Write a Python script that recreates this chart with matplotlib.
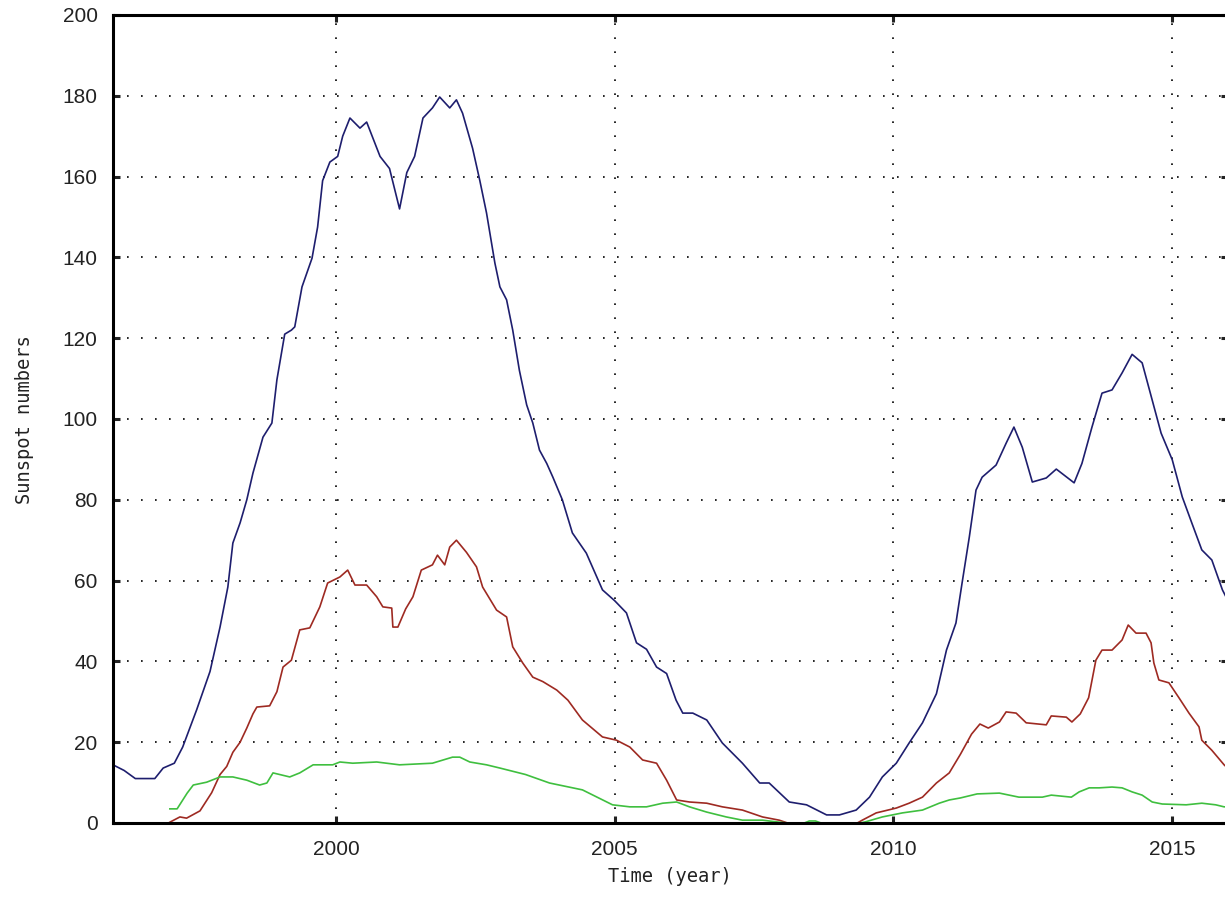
#Sunspot numbers 1996-2016 (total, north, south style curves)
import numpy as np
from matplotlib import pyplot as plt

# blue curve
anos_azul = [1996.0, 1996.2, 1996.4, 1996.75, 1996.9, 1997.1, 1997.25, 1997.5, 1997.74, 1997.92,
             1998.06, 1998.15, 1998.28, 1998.4, 1998.51, 1998.69, 1998.85, 1998.94, 1999.08, 1999.2,
             1999.26, 1999.39, 1999.57, 1999.67, 1999.76, 1999.89, 2000.03, 2000.12, 2000.25, 2000.43,
             2000.55, 2000.79, 2000.96, 2001.14, 2001.27, 2001.41, 2001.56, 2001.73, 2001.86, 2002.04,
             2002.16, 2002.27, 2002.45, 2002.58, 2002.7, 2002.85, 2002.94, 2003.06, 2003.17, 2003.29,
             2003.42, 2003.53, 2003.65, 2003.78, 2003.89, 2004.06, 2004.24, 2004.49, 2004.78, 2005.0,
             2005.21, 2005.39, 2005.57, 2005.75, 2005.93, 2006.1, 2006.22, 2006.4, 2006.65, 2006.93,
             2007.29, 2007.6, 2007.77, 2008.13, 2008.44, 2008.8, 2009.03, 2009.33, 2009.57, 2009.8,
             2010.05, 2010.28, 2010.52, 2010.77, 2010.95, 2011.12, 2011.23, 2011.36, 2011.48, 2011.59,
             2011.84, 2012.02, 2012.16, 2012.31, 2012.49, 2012.74, 2012.92, 2013.24, 2013.38, 2013.56,
             2013.74, 2013.92, 2014.1, 2014.28, 2014.46, 2014.64, 2014.8, 2015.0, 2015.18, 2015.35,
             2015.53, 2015.71, 2015.9, 2016.0]
azul = [14.4, 13, 11, 11, 13.6, 14.8, 18.8, 28, 37.5, 48.5,
        58.4, 69.3, 74.3, 80, 86.6, 95.5, 99, 109.7, 121, 122,
        122.8, 132.7, 139.8, 147.5, 159, 163.6, 165, 170, 174.5, 172,
        173.5, 165, 162, 152, 161, 165, 174.5, 177, 179.7, 177,
        179, 175.7, 167, 159, 151, 138.6, 132.7, 129.5, 122, 112,
        103.5, 99, 92.3, 89, 85.6, 80, 71.8, 66.8, 57.7, 55,
        52, 44.6, 43, 38.6, 37, 30.4, 27.2, 27.2, 25.5, 19.8,
        14.8, 9.9, 9.9, 5.2, 4.5, 2.0, 2.0, 3.2, 6.4, 11.4,
        14.8, 19.8, 24.8, 32, 42.8, 49.5, 59.4, 70.8, 82.4, 85.6,
        88.6, 94, 98, 93, 84.4, 85.4, 87.6, 84.2, 89, 98,
        106.4, 107.2, 111.4, 116, 113.9, 104.7, 96.5, 89.9, 80.7, 74.3,
        67.6, 65.1, 57.7, 55]

# red curve
anos_verm = [1997.02, 1997.2, 1997.32, 1997.56, 1997.77, 1997.92, 1998.04, 1998.15, 1998.28, 1998.4,
             1998.51, 1998.58, 1998.81, 1998.94, 1999.05, 1999.2, 1999.35, 1999.53, 1999.71, 1999.85,
             2000.07, 2000.21, 2000.34, 2000.55, 2000.73, 2000.84, 2001.0, 2001.02, 2001.11, 2001.25,
             2001.38, 2001.53, 2001.73, 2001.82, 2001.95, 2002.04, 2002.16, 2002.34, 2002.52, 2002.63,
             2002.88, 2003.06, 2003.17, 2003.35, 2003.53, 2003.71, 2003.96, 2004.16, 2004.42, 2004.78,
             2005.03, 2005.27, 2005.5, 2005.75, 2005.93, 2006.11, 2006.34, 2006.65, 2006.93, 2007.29,
             2007.65, 2007.95, 2008.1, 2009.35, 2009.44, 2009.69, 2010.05, 2010.28, 2010.52, 2010.77,
             2011.0, 2011.2, 2011.4, 2011.55, 2011.7, 2011.9, 2012.02, 2012.2, 2012.38, 2012.74,
             2012.83, 2013.1, 2013.2, 2013.35, 2013.5, 2013.63, 2013.74, 2013.92, 2014.1, 2014.21,
             2014.35, 2014.53, 2014.62, 2014.67, 2014.76, 2014.94, 2015.12, 2015.3, 2015.48, 2015.53,
             2015.71, 2015.93, 2016.0]
vermelho = [0.2, 1.5, 1.2, 3.0, 7.5, 12, 14, 17.5, 20, 23.5,
            27, 28.7, 29, 32.5, 38.6, 40.3, 47.8, 48.3, 53.5, 59.4,
            60.9, 62.6, 58.9, 58.9, 56, 53.5, 53.2, 48.5, 48.5, 53,
            56, 62.6, 63.9, 66.3, 63.9, 68.3, 70, 67, 63.4, 58.4,
            52.7, 51, 43.6, 39.6, 36.1, 35, 32.9, 30.4, 25.5, 21.3,
            20.5, 18.8, 15.6, 14.8, 10.6, 5.7, 5.2, 4.9, 4, 3.2,
            1.5, 0.7, 0, 0, 0.7, 2.5, 3.7, 4.9, 6.4, 9.9,
            12.4, 17, 22, 24.5, 23.5, 25, 27.5, 27.2, 24.8, 24.3,
            26.5, 26.2, 25, 27, 31, 40.3, 42.8, 42.8, 45.3, 49,
            47, 47, 44.6, 39.6, 35.4, 34.7, 31, 27.2, 23.8, 20.5,
            18, 14.4, 13.5]

# green curve
anos_verde = [1997.02, 1997.15, 1997.33, 1997.44, 1997.68, 1997.92, 1998.15, 1998.4, 1998.63, 1998.76,
              1998.87, 1999.17, 1999.35, 1999.59, 1999.94, 2000.07, 2000.3, 2000.73, 2001.14, 2001.73,
              2002.09, 2002.22, 2002.4, 2002.7, 2002.94, 2003.4, 2003.83, 2004.42, 2004.96, 2005.27,
              2005.57, 2005.86, 2006.11, 2006.34, 2006.65, 2007.0, 2007.29, 2007.65, 2007.95, 2008.1,
              2008.4, 2008.49, 2008.6, 2008.7, 2009.4, 2009.5, 2009.8, 2010.16, 2010.52, 2010.82,
              2011.0, 2011.2, 2011.5, 2011.9, 2012.25, 2012.67, 2012.83, 2013.19, 2013.33, 2013.51,
              2013.69, 2013.92, 2014.1, 2014.28, 2014.46, 2014.64, 2014.82, 2015.25, 2015.53, 2015.78,
              2015.93, 2016.0]
verde = [3.5, 3.5, 7.4, 9.4, 10.1, 11.4, 11.4, 10.6, 9.4, 9.9,
         12.4, 11.4, 12.4, 14.4, 14.4, 15.1, 14.8, 15.1, 14.4, 14.8,
         16.3, 16.3, 15.1, 14.4, 13.6, 12, 9.9, 8.2, 4.5, 4,
         4, 4.9, 5.2, 4, 2.7, 1.5, 0.7, 0.7, 0.2, 0,
         0, 0.5, 0.5, 0, 0, 0.3, 1.5, 2.5, 3.2, 4.9,
         5.7, 6.2, 7.2, 7.4, 6.4, 6.4, 6.9, 6.4, 7.7, 8.7,
         8.7, 8.9, 8.7, 7.7, 6.9, 5.2, 4.7, 4.5, 4.9, 4.5,
         4, 4]

xticks = [2000, 2005, 2010, 2015]
yticks = np.arange(0, 201, 20)

W, H = 1225, 901
fig = plt.figure(figsize=(W/100, H/100), dpi=100)
# axes box in pixels: left 113, right 1228 (just outside picture), top 15, bottom 823
ax = fig.add_axes([113/W, (H-823)/H, (1228-113)/W, (823-15)/H])

ax.plot(anos_azul, azul, color="#1e1e6e", lw=1.2, zorder=3)
ax.plot(anos_verm, vermelho, color="#9e2a22", lw=1.2, zorder=3)
ax.plot(anos_verde, verde, color="#3fbf3f", lw=1.2, zorder=3)

ax.set_xlim(1996, 2016)
ax.set_ylim(0, 200)
ax.set_xticks(xticks)
ax.set_yticks(yticks)
ax.grid(True, color="k", linestyle=(0, (1, 7.4)), lw=1.2)

for s in ax.spines.values():
    s.set_linewidth(2.2)
    s.set_zorder(4)

ax.tick_params(direction="in", length=5, width=2.2, top=True, right=True,
               labelsize=15, colors="#222222")
for lab in ax.get_xticklabels() + ax.get_yticklabels():
    lab.set_family("Liberation Sans")
ax.tick_params(axis="x", pad=12)
ax.tick_params(axis="y", pad=11)

fig.text(670/W, (H-877)/H, "Time (year)", ha="center", va="center",
         family="DejaVu Sans Mono", fontsize=13.5, color="#222222")
fig.text(25/W, (H-420)/H, "Sunspot numbers", ha="center", va="center",
         rotation=90, family="DejaVu Sans Mono", fontsize=13.5, color="#222222")

plt.savefig("out.png", dpi=100)
